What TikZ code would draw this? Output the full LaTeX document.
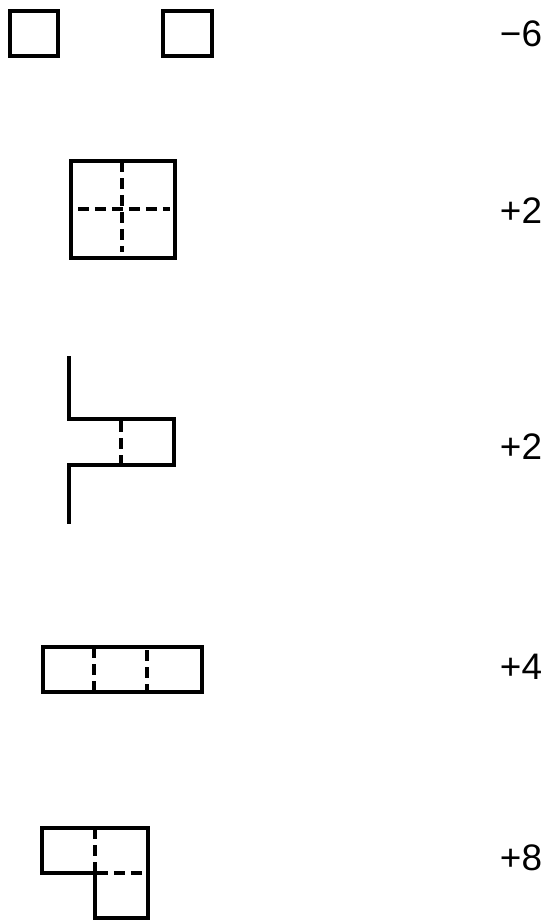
\documentclass[tikz,border=0pt]{standalone}
\usepackage{fontspec}
\setmainfont{Liberation Sans}
\usepackage{tikz}
\usetikzlibrary{positioning}

\begin{document}
\begin{tikzpicture}[x=0.02cm, y=-0.02cm,
  edge/.style={line width=2pt, line join=miter},
  fold/.style={line width=2pt, dash pattern=on 0.22cm off 0.12cm},
  score/.style={font=\fontsize{21}{24}\selectfont, inner sep=0pt}
]
  \useasboundingbox (0,0) rectangle (546,920);

  % Row 1: two single squares
  \draw[edge] (10,11) rectangle (58,56);
  \draw[edge] (163,11) rectangle (212,56);
  \node[score] (scoreA) at (521,34) {−6};

  % Row 2: 2x2 block
  \draw[edge] (71,161) rectangle (175,258);
  \draw[fold] (122,161) -- (122,252);
  \draw[fold] (78,209) -- (170,209);
  \node[score] (scoreB) at (521,211) {+2};

  % Row 3: step with a bump
  \draw[edge] (69,356) -- (69,419) -- (174,419) -- (174,465) -- (69,465) -- (69,524);
  \draw[fold] (121,421) -- (121,463);
  \node[score] (scoreC) at (521,447) {+2};

  % Row 4: strip of three
  \draw[edge] (43,647) rectangle (202,692);
  \draw[fold] (94,647) -- (94,692);
  \draw[fold] (147,650) -- (147,692);
  \node[score] (scoreD) at (521,667) {+4};

  % Row 5: L tromino
  \draw[edge] (42,828) -- (148,828) -- (148,918) -- (95,918) -- (95,873) -- (42,873) -- cycle;
  \draw[fold] (95,828) -- (95,873);
  \draw[fold] (97,873) -- (148,873);
  \node[score] (scoreE) at (521,858) {+8};
\end{tikzpicture}
\end{document}
